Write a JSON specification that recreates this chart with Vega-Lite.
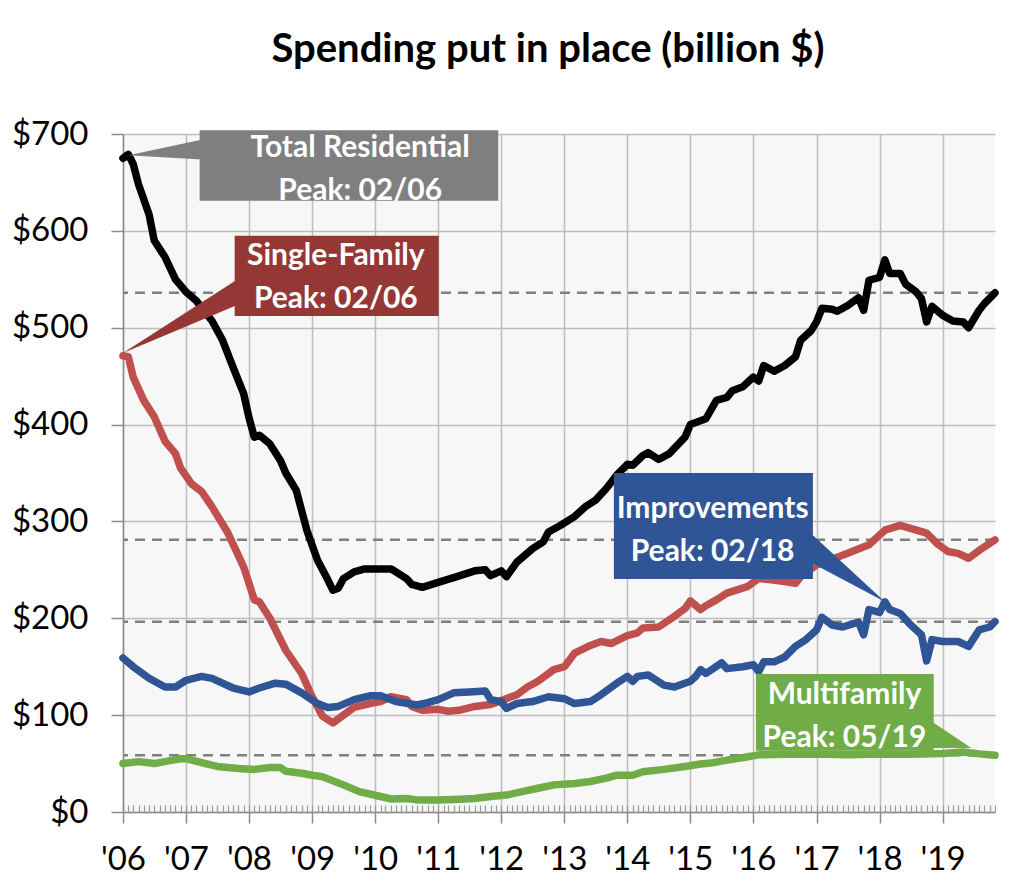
{
  "$schema": "https://vega.github.io/schema/vega-lite/v6.json",
  "width": 872,
  "height": 678,
  "autosize": "none",
  "padding": {"left": 123, "top": 134, "right": 29, "bottom": 83},
  "background": "white",
  "title": {"text": "Spending put in place (billion $)", "font": "Lato", "fontSize": 40, "fontWeight": "bold", "color": "black", "anchor": "middle", "baseline": "alphabetic", "offset": 16, "dx": -11},
  "config": {
    "view": {"fill": "#F7F7F7", "stroke": null},
    "axis": {"labelFont": "Lato", "labelFontSize": 33, "labelColor": "black", "domainColor": "#8C8C8C", "domainWidth": 1.5, "tickColor": "#8C8C8C", "tickWidth": 1.5, "gridColor": "#BDBDBD", "gridWidth": 1.5}
  },
  "datasets": {
    "series": [
      {"d":"2006-01-01","s":"Total Residential","v":675},{"d":"2006-02-01","s":"Total Residential","v":679},{"d":"2006-03-01","s":"Total Residential","v":669},{"d":"2006-04-01","s":"Total Residential","v":648},{"d":"2006-06-01","s":"Total Residential","v":617},{"d":"2006-07-01","s":"Total Residential","v":590},{"d":"2006-09-01","s":"Total Residential","v":573},{"d":"2006-11-01","s":"Total Residential","v":550},{"d":"2007-01-01","s":"Total Residential","v":537},{"d":"2007-03-01","s":"Total Residential","v":528},{"d":"2007-06-01","s":"Total Residential","v":507},{"d":"2007-08-01","s":"Total Residential","v":487},{"d":"2007-10-01","s":"Total Residential","v":459},{"d":"2007-12-01","s":"Total Residential","v":432},{"d":"2008-01-01","s":"Total Residential","v":407},{"d":"2008-02-01","s":"Total Residential","v":387},{"d":"2008-03-01","s":"Total Residential","v":389},{"d":"2008-05-01","s":"Total Residential","v":380},{"d":"2008-07-01","s":"Total Residential","v":363},{"d":"2008-08-01","s":"Total Residential","v":350},{"d":"2008-10-01","s":"Total Residential","v":332},{"d":"2008-12-01","s":"Total Residential","v":291},{"d":"2009-02-01","s":"Total Residential","v":260},{"d":"2009-04-01","s":"Total Residential","v":240},{"d":"2009-05-01","s":"Total Residential","v":229},{"d":"2009-06-01","s":"Total Residential","v":231},{"d":"2009-07-01","s":"Total Residential","v":241},{"d":"2009-09-01","s":"Total Residential","v":248},{"d":"2009-11-01","s":"Total Residential","v":251},{"d":"2010-02-01","s":"Total Residential","v":251},{"d":"2010-04-01","s":"Total Residential","v":251},{"d":"2010-05-01","s":"Total Residential","v":248},{"d":"2010-07-01","s":"Total Residential","v":241},{"d":"2010-08-01","s":"Total Residential","v":235},{"d":"2010-10-01","s":"Total Residential","v":232},{"d":"2011-01-01","s":"Total Residential","v":237},{"d":"2011-04-01","s":"Total Residential","v":242},{"d":"2011-08-01","s":"Total Residential","v":249},{"d":"2011-10-01","s":"Total Residential","v":250},{"d":"2011-11-01","s":"Total Residential","v":244},{"d":"2012-01-01","s":"Total Residential","v":249},{"d":"2012-02-01","s":"Total Residential","v":243},{"d":"2012-04-01","s":"Total Residential","v":258},{"d":"2012-07-01","s":"Total Residential","v":272},{"d":"2012-09-01","s":"Total Residential","v":279},{"d":"2012-10-01","s":"Total Residential","v":289},{"d":"2012-12-01","s":"Total Residential","v":295},{"d":"2013-03-01","s":"Total Residential","v":305},{"d":"2013-05-01","s":"Total Residential","v":315},{"d":"2013-07-01","s":"Total Residential","v":322},{"d":"2013-09-01","s":"Total Residential","v":334},{"d":"2013-11-01","s":"Total Residential","v":348},{"d":"2014-01-01","s":"Total Residential","v":359},{"d":"2014-02-01","s":"Total Residential","v":358},{"d":"2014-04-01","s":"Total Residential","v":368},{"d":"2014-05-01","s":"Total Residential","v":371},{"d":"2014-07-01","s":"Total Residential","v":364},{"d":"2014-09-01","s":"Total Residential","v":370},{"d":"2014-12-01","s":"Total Residential","v":387},{"d":"2015-01-01","s":"Total Residential","v":400},{"d":"2015-04-01","s":"Total Residential","v":406},{"d":"2015-06-01","s":"Total Residential","v":425},{"d":"2015-08-01","s":"Total Residential","v":428},{"d":"2015-09-01","s":"Total Residential","v":435},{"d":"2015-11-01","s":"Total Residential","v":439},{"d":"2016-01-01","s":"Total Residential","v":449},{"d":"2016-02-01","s":"Total Residential","v":445},{"d":"2016-03-01","s":"Total Residential","v":461},{"d":"2016-05-01","s":"Total Residential","v":455},{"d":"2016-07-01","s":"Total Residential","v":461},{"d":"2016-09-01","s":"Total Residential","v":470},{"d":"2016-10-01","s":"Total Residential","v":487},{"d":"2016-12-01","s":"Total Residential","v":497},{"d":"2017-01-01","s":"Total Residential","v":506},{"d":"2017-02-01","s":"Total Residential","v":520},{"d":"2017-04-01","s":"Total Residential","v":519},{"d":"2017-05-01","s":"Total Residential","v":517},{"d":"2017-07-01","s":"Total Residential","v":523},{"d":"2017-09-01","s":"Total Residential","v":531},{"d":"2017-10-01","s":"Total Residential","v":518},{"d":"2017-11-01","s":"Total Residential","v":549},{"d":"2018-01-01","s":"Total Residential","v":552},{"d":"2018-02-01","s":"Total Residential","v":570},{"d":"2018-03-01","s":"Total Residential","v":556},{"d":"2018-05-01","s":"Total Residential","v":556},{"d":"2018-06-01","s":"Total Residential","v":545},{"d":"2018-08-01","s":"Total Residential","v":537},{"d":"2018-09-01","s":"Total Residential","v":530},{"d":"2018-10-01","s":"Total Residential","v":506},{"d":"2018-11-01","s":"Total Residential","v":522},{"d":"2019-01-01","s":"Total Residential","v":513},{"d":"2019-03-01","s":"Total Residential","v":507},{"d":"2019-05-01","s":"Total Residential","v":506},{"d":"2019-06-01","s":"Total Residential","v":500},{"d":"2019-08-01","s":"Total Residential","v":518},{"d":"2019-09-01","s":"Total Residential","v":525},{"d":"2019-11-01","s":"Total Residential","v":536},
      {"d":"2006-01-01","s":"Single-Family","v":471},{"d":"2006-02-01","s":"Single-Family","v":470},{"d":"2006-03-01","s":"Single-Family","v":449},{"d":"2006-05-01","s":"Single-Family","v":425},{"d":"2006-07-01","s":"Single-Family","v":408},{"d":"2006-09-01","s":"Single-Family","v":383},{"d":"2006-11-01","s":"Single-Family","v":370},{"d":"2006-12-01","s":"Single-Family","v":355},{"d":"2007-02-01","s":"Single-Family","v":339},{"d":"2007-04-01","s":"Single-Family","v":331},{"d":"2007-06-01","s":"Single-Family","v":315},{"d":"2007-09-01","s":"Single-Family","v":288},{"d":"2007-12-01","s":"Single-Family","v":253},{"d":"2008-02-01","s":"Single-Family","v":219},{"d":"2008-03-01","s":"Single-Family","v":217},{"d":"2008-05-01","s":"Single-Family","v":200},{"d":"2008-08-01","s":"Single-Family","v":167},{"d":"2008-11-01","s":"Single-Family","v":143},{"d":"2009-01-01","s":"Single-Family","v":119},{"d":"2009-03-01","s":"Single-Family","v":99},{"d":"2009-05-01","s":"Single-Family","v":92},{"d":"2009-07-01","s":"Single-Family","v":100},{"d":"2009-09-01","s":"Single-Family","v":108},{"d":"2009-12-01","s":"Single-Family","v":112},{"d":"2010-02-01","s":"Single-Family","v":114},{"d":"2010-04-01","s":"Single-Family","v":119},{"d":"2010-07-01","s":"Single-Family","v":116},{"d":"2010-08-01","s":"Single-Family","v":109},{"d":"2010-10-01","s":"Single-Family","v":105},{"d":"2011-01-01","s":"Single-Family","v":106},{"d":"2011-03-01","s":"Single-Family","v":104},{"d":"2011-05-01","s":"Single-Family","v":105},{"d":"2011-08-01","s":"Single-Family","v":109},{"d":"2011-11-01","s":"Single-Family","v":111},{"d":"2012-01-01","s":"Single-Family","v":115},{"d":"2012-04-01","s":"Single-Family","v":121},{"d":"2012-06-01","s":"Single-Family","v":129},{"d":"2012-08-01","s":"Single-Family","v":135},{"d":"2012-11-01","s":"Single-Family","v":147},{"d":"2013-01-01","s":"Single-Family","v":150},{"d":"2013-03-01","s":"Single-Family","v":164},{"d":"2013-06-01","s":"Single-Family","v":172},{"d":"2013-08-01","s":"Single-Family","v":176},{"d":"2013-10-01","s":"Single-Family","v":174},{"d":"2014-01-01","s":"Single-Family","v":182},{"d":"2014-03-01","s":"Single-Family","v":185},{"d":"2014-04-01","s":"Single-Family","v":190},{"d":"2014-07-01","s":"Single-Family","v":191},{"d":"2014-10-01","s":"Single-Family","v":202},{"d":"2014-12-01","s":"Single-Family","v":210},{"d":"2015-01-01","s":"Single-Family","v":218},{"d":"2015-03-01","s":"Single-Family","v":209},{"d":"2015-04-01","s":"Single-Family","v":213},{"d":"2015-06-01","s":"Single-Family","v":219},{"d":"2015-08-01","s":"Single-Family","v":226},{"d":"2015-12-01","s":"Single-Family","v":233},{"d":"2016-02-01","s":"Single-Family","v":241},{"d":"2016-04-01","s":"Single-Family","v":240},{"d":"2016-07-01","s":"Single-Family","v":238},{"d":"2016-09-01","s":"Single-Family","v":236},{"d":"2016-10-01","s":"Single-Family","v":243},{"d":"2017-01-01","s":"Single-Family","v":255},{"d":"2017-06-01","s":"Single-Family","v":265},{"d":"2017-11-01","s":"Single-Family","v":276},{"d":"2018-02-01","s":"Single-Family","v":291},{"d":"2018-05-01","s":"Single-Family","v":296},{"d":"2018-10-01","s":"Single-Family","v":288},{"d":"2018-12-01","s":"Single-Family","v":277},{"d":"2019-02-01","s":"Single-Family","v":269},{"d":"2019-04-01","s":"Single-Family","v":267},{"d":"2019-06-01","s":"Single-Family","v":262},{"d":"2019-08-01","s":"Single-Family","v":270},{"d":"2019-11-01","s":"Single-Family","v":281},
      {"d":"2006-01-01","s":"Improvements","v":159},{"d":"2006-03-01","s":"Improvements","v":150},{"d":"2006-06-01","s":"Improvements","v":138},{"d":"2006-09-01","s":"Improvements","v":129},{"d":"2006-11-01","s":"Improvements","v":129},{"d":"2007-01-01","s":"Improvements","v":136},{"d":"2007-04-01","s":"Improvements","v":140},{"d":"2007-06-01","s":"Improvements","v":138},{"d":"2007-10-01","s":"Improvements","v":128},{"d":"2008-01-01","s":"Improvements","v":124},{"d":"2008-03-01","s":"Improvements","v":128},{"d":"2008-06-01","s":"Improvements","v":133},{"d":"2008-08-01","s":"Improvements","v":132},{"d":"2008-11-01","s":"Improvements","v":123},{"d":"2009-02-01","s":"Improvements","v":112},{"d":"2009-04-01","s":"Improvements","v":108},{"d":"2009-06-01","s":"Improvements","v":109},{"d":"2009-09-01","s":"Improvements","v":116},{"d":"2009-12-01","s":"Improvements","v":120},{"d":"2010-02-01","s":"Improvements","v":120},{"d":"2010-05-01","s":"Improvements","v":114},{"d":"2010-09-01","s":"Improvements","v":110.5},{"d":"2010-11-01","s":"Improvements","v":113},{"d":"2011-01-01","s":"Improvements","v":116},{"d":"2011-04-01","s":"Improvements","v":123},{"d":"2011-07-01","s":"Improvements","v":124},{"d":"2011-10-01","s":"Improvements","v":125},{"d":"2011-11-01","s":"Improvements","v":116},{"d":"2012-01-01","s":"Improvements","v":114},{"d":"2012-02-01","s":"Improvements","v":107},{"d":"2012-04-01","s":"Improvements","v":112},{"d":"2012-07-01","s":"Improvements","v":114},{"d":"2012-10-01","s":"Improvements","v":119},{"d":"2013-01-01","s":"Improvements","v":117},{"d":"2013-03-01","s":"Improvements","v":112},{"d":"2013-06-01","s":"Improvements","v":114},{"d":"2013-08-01","s":"Improvements","v":121},{"d":"2013-11-01","s":"Improvements","v":133},{"d":"2014-01-01","s":"Improvements","v":140},{"d":"2014-02-01","s":"Improvements","v":135},{"d":"2014-03-01","s":"Improvements","v":140},{"d":"2014-05-01","s":"Improvements","v":141.5},{"d":"2014-08-01","s":"Improvements","v":131},{"d":"2014-10-01","s":"Improvements","v":129},{"d":"2015-01-01","s":"Improvements","v":135},{"d":"2015-02-01","s":"Improvements","v":140},{"d":"2015-03-01","s":"Improvements","v":147},{"d":"2015-04-01","s":"Improvements","v":143},{"d":"2015-07-01","s":"Improvements","v":154},{"d":"2015-08-01","s":"Improvements","v":148},{"d":"2015-11-01","s":"Improvements","v":150},{"d":"2016-01-01","s":"Improvements","v":152},{"d":"2016-02-01","s":"Improvements","v":145},{"d":"2016-03-01","s":"Improvements","v":155},{"d":"2016-05-01","s":"Improvements","v":155},{"d":"2016-07-01","s":"Improvements","v":160},{"d":"2016-09-01","s":"Improvements","v":171},{"d":"2016-11-01","s":"Improvements","v":178},{"d":"2017-01-01","s":"Improvements","v":188},{"d":"2017-02-01","s":"Improvements","v":201},{"d":"2017-04-01","s":"Improvements","v":193},{"d":"2017-06-01","s":"Improvements","v":191},{"d":"2017-09-01","s":"Improvements","v":196},{"d":"2017-10-01","s":"Improvements","v":183},{"d":"2017-11-01","s":"Improvements","v":209},{"d":"2018-01-01","s":"Improvements","v":206},{"d":"2018-02-01","s":"Improvements","v":217},{"d":"2018-03-01","s":"Improvements","v":209},{"d":"2018-05-01","s":"Improvements","v":205},{"d":"2018-07-01","s":"Improvements","v":193},{"d":"2018-09-01","s":"Improvements","v":183},{"d":"2018-10-01","s":"Improvements","v":156},{"d":"2018-11-01","s":"Improvements","v":178},{"d":"2019-01-01","s":"Improvements","v":176},{"d":"2019-04-01","s":"Improvements","v":176},{"d":"2019-06-01","s":"Improvements","v":171},{"d":"2019-08-01","s":"Improvements","v":188},{"d":"2019-10-01","s":"Improvements","v":191},{"d":"2019-11-01","s":"Improvements","v":196.5},
      {"d":"2006-01-01","s":"Multifamily","v":50},{"d":"2006-04-01","s":"Multifamily","v":52},{"d":"2006-07-01","s":"Multifamily","v":50},{"d":"2006-10-01","s":"Multifamily","v":53},{"d":"2006-12-01","s":"Multifamily","v":55},{"d":"2007-01-01","s":"Multifamily","v":55},{"d":"2007-04-01","s":"Multifamily","v":51},{"d":"2007-07-01","s":"Multifamily","v":47},{"d":"2007-11-01","s":"Multifamily","v":45},{"d":"2008-02-01","s":"Multifamily","v":44},{"d":"2008-05-01","s":"Multifamily","v":46},{"d":"2008-07-01","s":"Multifamily","v":46},{"d":"2008-08-01","s":"Multifamily","v":42},{"d":"2008-11-01","s":"Multifamily","v":40},{"d":"2009-01-01","s":"Multifamily","v":38},{"d":"2009-03-01","s":"Multifamily","v":36.5},{"d":"2009-07-01","s":"Multifamily","v":28},{"d":"2009-10-01","s":"Multifamily","v":21},{"d":"2010-02-01","s":"Multifamily","v":16},{"d":"2010-04-01","s":"Multifamily","v":13.5},{"d":"2010-07-01","s":"Multifamily","v":14},{"d":"2010-09-01","s":"Multifamily","v":12.5},{"d":"2011-01-01","s":"Multifamily","v":12.5},{"d":"2011-04-01","s":"Multifamily","v":13},{"d":"2011-08-01","s":"Multifamily","v":14},{"d":"2011-11-01","s":"Multifamily","v":16},{"d":"2012-02-01","s":"Multifamily","v":17.5},{"d":"2012-05-01","s":"Multifamily","v":21},{"d":"2012-08-01","s":"Multifamily","v":24.5},{"d":"2012-11-01","s":"Multifamily","v":28},{"d":"2013-03-01","s":"Multifamily","v":29.5},{"d":"2013-06-01","s":"Multifamily","v":31.5},{"d":"2013-09-01","s":"Multifamily","v":35},{"d":"2013-11-01","s":"Multifamily","v":38},{"d":"2014-02-01","s":"Multifamily","v":38},{"d":"2014-04-01","s":"Multifamily","v":41.5},{"d":"2014-08-01","s":"Multifamily","v":44},{"d":"2014-12-01","s":"Multifamily","v":47},{"d":"2015-03-01","s":"Multifamily","v":49.5},{"d":"2015-05-01","s":"Multifamily","v":50.5},{"d":"2015-08-01","s":"Multifamily","v":53.5},{"d":"2015-12-01","s":"Multifamily","v":57},{"d":"2016-02-01","s":"Multifamily","v":59},{"d":"2016-07-01","s":"Multifamily","v":59.5},{"d":"2017-01-01","s":"Multifamily","v":60},{"d":"2017-07-01","s":"Multifamily","v":59},{"d":"2018-01-01","s":"Multifamily","v":60},{"d":"2018-07-01","s":"Multifamily","v":59.5},{"d":"2019-01-01","s":"Multifamily","v":60.5},{"d":"2019-05-01","s":"Multifamily","v":62},{"d":"2019-08-01","s":"Multifamily","v":60},{"d":"2019-11-01","s":"Multifamily","v":58.5}
    ],
    "callouts": [
      {"c":"Total Residential","x1":"2007-03-21","x2":"2011-12-15","top":704,"bottom":631,"tx":"2009-10-06","ty":686,"label":"Total Residential\nPeak: 02/06"},
      {"c":"Single-Family","x1":"2007-10-10","x2":"2011-01-04","top":595,"bottom":512,"tx":"2009-05-18","ty":574,"label":"Single-Family\nPeak: 02/06"},
      {"c":"Improvements","x1":"2013-10-15","x2":"2016-12-11","top":350,"bottom":240.5,"tx":"2015-05-10","ty":313,"label":"Improvements\nPeak: 02/18"},
      {"c":"Multifamily","x1":"2016-01-16","x2":"2018-11-11","top":142.5,"bottom":63.3,"tx":"2017-06-12","ty":121,"label":"Multifamily\nPeak: 05/19"}
    ],
    "pointers": [
      {"c":"Total Residential","k":1,"d":"2006-02-01","v":678},{"c":"Total Residential","k":2,"d":"2007-06-15","v":697},{"c":"Total Residential","k":3,"d":"2007-06-15","v":673},
      {"c":"Single-Family","k":1,"d":"2006-01-01","v":474},{"c":"Single-Family","k":2,"d":"2008-01-05","v":558},{"c":"Single-Family","k":3,"d":"2008-01-05","v":529},
      {"c":"Improvements","k":1,"d":"2018-02-01","v":217},{"c":"Improvements","k":2,"d":"2016-10-03","v":297},{"c":"Improvements","k":3,"d":"2016-10-03","v":263},
      {"c":"Multifamily","k":1,"d":"2019-06-17","v":66},{"c":"Multifamily","k":2,"d":"2018-08-29","v":101},{"c":"Multifamily","k":3,"d":"2018-08-29","v":66}
    ]
  },
  "layer": [
    {
      "data": {"name": "series"},
      "transform": [
        {"aggregate": [{"op": "argmax", "field": "d", "as": "last"}], "groupby": ["s"]},
        {"calculate": "datum.last.v", "as": "lastV"}
      ],
      "mark": {"type": "rule", "color": "#808080", "strokeWidth": 2.5, "strokeDash": [10, 7]},
      "encoding": {
        "y": {"field": "lastV", "type": "quantitative", "title": null}
      }
    },
    {
      "data": {"name": "series"},
      "mark": {"type": "line", "strokeWidth": 7.5, "strokeJoin": "round", "strokeCap": "round"},
      "encoding": {
        "x": {
          "field": "d", "type": "temporal", "title": null,
          "scale": {"type": "utc", "domain": [{"year": 2006, "month": 1, "date": 1, "utc": true}, {"year": 2019, "month": 11, "date": 1, "utc": true}]},
          "axis": {"orient": "bottom", "format": "'%y", "tickCount": {"interval": "year", "step": 1}, "grid": true, "tickSize": 11, "labelPadding": 20, "labelFlush": false, "labelOverlap": false}
        },
        "y": {
          "field": "v", "type": "quantitative", "title": null,
          "scale": {"domain": [0, 700]},
          "axis": {"values": [0, 100, 200, 300, 400, 500, 600, 700], "labelExpr": "'$' + datum.value", "grid": true, "tickSize": 12, "labelPadding": 23}
        },
        "stroke": {
          "field": "s", "type": "nominal", "legend": null,
          "scale": {"domain": ["Total Residential", "Single-Family", "Improvements", "Multifamily"], "range": ["#000000", "#C0504D", "#2F5597", "#70AD47"]}
        }
      }
    },
    {
      "data": {"name": "pointers"},
      "mark": {"type": "line", "interpolate": "linear-closed", "filled": true, "strokeWidth": 0},
      "encoding": {
        "x": {"field": "d", "type": "temporal", "axis": null},
        "y": {"field": "v", "type": "quantitative", "title": null},
        "order": {"field": "k"},
        "color": {
          "field": "c", "type": "nominal", "legend": null,
          "scale": {"domain": ["Total Residential", "Single-Family", "Improvements", "Multifamily"], "range": ["#7F7F7F", "#953735", "#2F5597", "#70AD47"]}
        }
      }
    },
    {
      "data": {"name": "callouts"},
      "mark": {"type": "rect"},
      "encoding": {
        "x": {"field": "x1", "type": "temporal", "title": null,
          "axis": {"orient": "bottom", "tickCount": {"interval": "month", "step": 1}, "labels": false, "domain": false, "grid": false, "offset": -7, "tickSize": 7, "tickWidth": 1.2, "tickColor": "#9A9A9A"}},
        "x2": {"field": "x2"},
        "y": {"field": "top", "type": "quantitative", "title": null},
        "y2": {"field": "bottom"},
        "color": {"field": "c", "type": "nominal", "legend": null}
      }
    },
    {
      "data": {"name": "callouts"},
      "mark": {"type": "text", "color": "white", "font": "Lato", "fontSize": 30, "fontWeight": "bold", "lineBreak": "\n", "lineHeight": 43, "align": "center", "baseline": "middle"},
      "encoding": {
        "x": {"field": "tx", "type": "temporal", "axis": null},
        "y": {"field": "ty", "type": "quantitative", "title": null},
        "text": {"field": "label"}
      }
    }
  ],
  "resolve": {"axis": {"x": "independent"}}
}
